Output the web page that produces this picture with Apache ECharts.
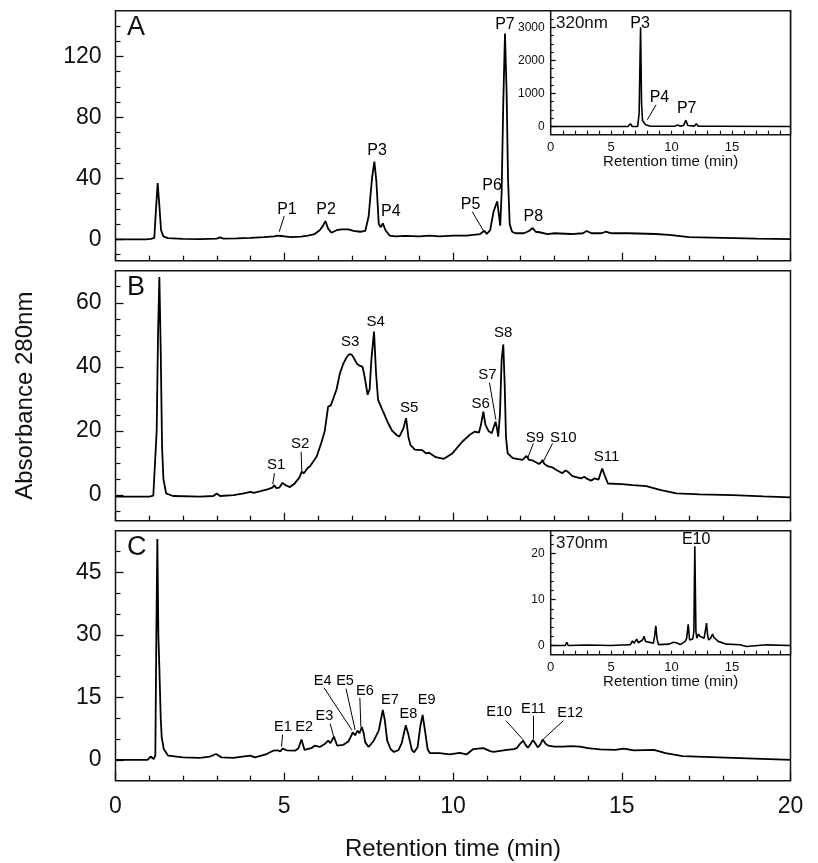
<!DOCTYPE html>
<html><head><meta charset="utf-8">
<script src="https://cdn.jsdelivr.net/npm/echarts@6/dist/echarts.min.js"></script>
<style>html,body{margin:0;padding:0;background:#fff}#c{width:818px;height:863px}</style>
</head><body><div id="c"></div>
<script>
// ---------- data: [retention time (min), absorbance] ----------
const chromA = [[0,0],[0.9,0],[1.05,0.3],[1.1,1.5],[1.15,1],[1.2,20],[1.25,37],[1.3,22],[1.35,6],[1.42,2],[1.55,0.8],[2.0,0.3],[2.5,0.2],[3.0,0.5],[3.1,1.3],[3.2,0.5],[3.6,0.6],[4.0,1],[4.4,1.5],[4.7,2],[4.8,2.5],[4.85,3.5],[4.92,2.2],[5.0,2],[5.2,1.5],[5.5,1.8],[5.7,2.5],[5.9,3.5],[6.05,6],[6.15,9],[6.22,12],[6.3,7],[6.4,4.3],[6.55,6],[6.7,6.6],[6.9,6.5],[7.05,5.5],[7.25,5],[7.4,5.5],[7.5,15],[7.6,40],[7.67,51],[7.73,38],[7.8,10],[7.86,8],[7.92,10.5],[8.0,6],[8.12,2.5],[8.3,2],[8.6,2.3],[9.0,2],[9.3,2.5],[9.6,2],[10.0,2.5],[10.4,2.5],[10.8,3.5],[10.93,5.7],[11.0,3.5],[11.1,6],[11.2,18],[11.31,25],[11.4,9],[11.44,30],[11.49,90],[11.54,135],[11.59,95],[11.63,40],[11.68,10],[11.75,5],[11.85,4],[12.1,4],[12.25,5.5],[12.36,7.4],[12.45,5],[12.6,4.5],[12.8,3.5],[13.0,4],[13.5,3.5],[13.85,4],[13.96,5.5],[14.1,4],[14.4,4],[14.52,5],[14.7,4],[15.2,4],[16.0,3.5],[16.4,3],[17.0,1.5],[18.0,1],[19.0,0.5],[20.0,0.2]];
const chromB = [[0,-0.5],[1.0,-0.5],[1.12,-0.2],[1.17,0],[1.22,20],[1.26,50],[1.30,68],[1.34,45],[1.38,15],[1.42,5],[1.5,0.5],[1.7,-0.3],[2.5,-0.5],[2.9,-0.3],[3.0,0.5],[3.1,-0.3],[3.5,0],[3.8,0.5],[4.0,1],[4.1,0.7],[4.3,1.2],[4.5,1.8],[4.65,2.3],[4.70,3.1],[4.76,2.2],[4.85,2.3],[4.95,3.8],[5.05,3],[5.17,2.5],[5.3,3.5],[5.45,5.5],[5.52,7.3],[5.58,6.8],[5.7,8.5],[5.76,8.9],[5.96,12],[6.11,16.7],[6.2,20],[6.3,27.6],[6.38,28],[6.45,30],[6.55,33],[6.6,33.2],[6.65,38],[6.75,41],[6.85,43],[6.93,44],[7.0,43.8],[7.05,43],[7.15,41],[7.25,40.3],[7.32,40],[7.38,37],[7.47,31.3],[7.53,33],[7.58,42],[7.66,51],[7.72,38],[7.78,29.7],[7.85,28],[7.93,26],[8.08,22.4],[8.2,20],[8.33,18.75],[8.41,18.2],[8.53,20.8],[8.61,24],[8.68,18],[8.74,15.6],[8.87,14.2],[9.09,14],[9.2,13],[9.29,13.2],[9.49,11.8],[9.73,11.3],[9.98,13],[10.28,16.7],[10.52,19],[10.65,19.8],[10.77,19.5],[10.83,22],[10.9,26],[10.96,22],[11.05,20],[11.15,19.3],[11.2,21],[11.26,22.9],[11.3,21],[11.34,18.2],[11.39,25],[11.44,42],[11.49,47],[11.53,35],[11.57,18],[11.62,13],[11.77,11.5],[12.06,11],[12.12,11.6],[12.18,12.2],[12.25,11],[12.36,10.8],[12.55,9.7],[12.62,10.3],[12.65,11],[12.7,9.8],[12.80,9],[12.95,8.6],[13.04,8],[13.24,6.8],[13.32,7.6],[13.39,7.4],[13.54,5.9],[13.79,5.2],[13.89,5.7],[13.95,5.2],[14.09,4.5],[14.2,5.2],[14.31,4.8],[14.42,8.3],[14.5,6],[14.59,3.6],[15.0,3.4],[15.33,3.1],[15.73,2.8],[16.13,1.6],[16.62,0.5],[17.31,0.2],[18.3,0],[19.2,-0.4],[20,-0.7]];
const chromC = [[0,0],[0.95,0],[1.04,0.8],[1.13,0.2],[1.18,1],[1.21,30],[1.24,53],[1.27,30],[1.3,22],[1.34,10],[1.37,5.4],[1.43,2.6],[1.56,1.0],[2.0,0.6],[2.5,0.5],[2.8,0.8],[2.98,1.4],[3.14,0.6],[3.49,0.5],[3.99,1.0],[4.13,0.6],[4.48,1.4],[4.67,2.2],[4.8,2.3],[4.88,2.0],[4.95,2.7],[5.07,2.3],[5.32,2.2],[5.42,2.8],[5.51,4.9],[5.6,2.4],[5.8,2.8],[5.9,3.4],[6.05,3.1],[6.2,3.8],[6.3,4.6],[6.37,4.0],[6.47,5.6],[6.57,3.4],[6.75,3.6],[6.9,4.4],[6.97,5.5],[7.03,6.6],[7.1,5.9],[7.17,7.0],[7.23,6.4],[7.3,7.9],[7.35,6.5],[7.4,4.2],[7.5,3.1],[7.65,4.6],[7.8,7.0],[7.86,9.5],[7.92,12.0],[7.98,9.5],[8.05,4.6],[8.15,2.6],[8.25,1.9],[8.38,2.3],[8.48,4],[8.6,8.3],[8.68,6],[8.78,2.4],[8.85,1.8],[8.95,3],[9.03,8],[9.1,10.8],[9.17,7],[9.25,2.5],[9.32,1.6],[9.6,1.6],[9.9,1.3],[10.2,1.7],[10.4,1.3],[10.6,2.6],[10.9,2.8],[11.1,2.1],[11.2,1.9],[11.6,2.4],[11.8,2.6],[11.9,2.9],[11.98,3.8],[12.08,4.6],[12.15,3.6],[12.22,2.9],[12.3,3.8],[12.37,4.8],[12.45,3.8],[12.51,3.0],[12.58,3.6],[12.66,4.9],[12.75,3.8],[12.83,3.4],[13.0,3.2],[13.27,3.2],[13.5,3.3],[13.76,3.2],[14.0,2.8],[14.36,2.5],[14.8,2.4],[15.06,2.7],[15.36,2.3],[15.95,2.4],[16.3,1.6],[16.8,0.9],[18.3,0.5],[20,0]];
const chromInsetA = [[0,0],[6.4,0],[6.6,80],[6.75,0],[7.2,0],[7.32,400],[7.44,3000],[7.52,700],[7.6,180],[7.72,200],[7.85,50],[8.2,10],[9.5,5],[10.3,10],[10.5,40],[10.7,10],[11.0,30],[11.19,190],[11.35,30],[11.9,10],[12.05,80],[12.2,10],[13.6,5],[13.7,30],[13.85,5],[19.85,0]];
const chromInsetC = [[0,0],[1.2,0],[1.33,0.7],[1.45,0],[3,0.1],[5.0,0],[5.85,0.1],[5.97,0.5],[6.1,0.1],[6.6,0.2],[6.77,1.0],[6.9,0.5],[7.05,0.7],[7.12,1.4],[7.25,0.6],[7.4,0.9],[7.6,1.2],[7.73,2.0],[7.85,0.9],[7.96,0.5],[8.5,0.5],[8.6,2],[8.7,4.3],[8.8,1.5],[8.92,0.2],[9.8,0.3],[10.16,0.7],[10.4,0.6],[10.72,0.2],[11.13,0.9],[11.25,1.5],[11.38,4.6],[11.5,1.2],[11.6,0.9],[11.76,1.4],[11.85,3],[11.93,21.6],[12.02,3],[12.1,1.6],[12.23,2.5],[12.35,2.0],[12.5,2.0],[12.7,1.6],[12.82,3.5],[12.9,4.9],[12.98,2.5],[13.07,1.2],[13.24,1.6],[13.4,2.5],[13.5,1.8],[13.6,1.8],[13.87,0.9],[14.56,0.3],[15.67,0.15],[16.2,-0.2],[17.86,0.15],[19.85,0]];

// ---------- peak annotations: [text, time, value] and leader lines [t1,v1,t2,v2] ----------
const labelsA = [['P1',5.08,19.8],['P2',6.24,19.8],['P3',7.75,58.4],['P4',8.16,18.2],['P5',10.52,23],['P6',11.16,35.3],['P7',11.54,140.6],['P8',12.38,14.9]];
const leadersA = [[5.0,15.4,4.85,5],[10.57,18.2,10.9,5.7]];
const labelsB = [['S1',4.76,9.4],['S2',5.47,15.9],['S3',6.95,47.9],['S4',7.71,53.9],['S5',8.70,27.1],['S6',10.82,28.6],['S7',11.02,37.5],['S8',11.49,50.5],['S9',12.43,17.7],['S10',13.27,17.7],['S11',14.55,12]];
const leadersB = [[4.71,6.8,4.66,3.4],[5.50,13.5,5.52,7.3],[11.08,35.1,11.27,23.5],[12.38,16.1,12.2,11.2],[12.95,16.1,12.68,10.6]];
const labelsC = [['E1',4.96,8.0],['E2',5.59,8.0],['E3',6.19,10.6],['E4',6.14,18.9],['E5',6.80,18.9],['E6',7.39,16.5],['E7',8.13,14.3],['E8',8.68,10.9],['E9',9.22,14.3],['E10',11.37,11.4],['E11',12.38,12.3],['E12',13.47,11.2]];
const leadersC = [[4.95,6.1,4.92,3.2],[6.36,8.7,6.47,5.4],[6.18,17.3,7.0,7.2],[6.83,17.1,7.10,7.2],[7.24,14.9,7.27,7.9],[11.57,9.4,12.08,4.8],[12.38,10.6,12.38,5.0],[13.27,9.4,12.68,5.0]];
const labelsInsetA = [['P3',7.40,3124],['P4',9.0,880],['P7',11.26,535]];
const leadersInsetA = [[8.72,656,8.0,202]];
const labelsInsetC = [['E10',12.04,23.1]];

// ---------- axis ticks ----------
const xMain = {min:0, max:20, interval:5};
const yRangeA = [-14,150], yMajorA = [0,40,80,120], yMinorA = [-10,10,20,30,50,60,70,90,100,110,130,140];
const yRangeB = [-8,70], yMajorB = [0,20,40,60], yMinorB = [-5,5,10,15,25,30,35,45,50,55,65];
const yRangeC = [-5,55], yMajorC = [0,15,30,45], yMinorC = [5,10,20,25,35,40,50];
const xInsetMax = 19.85, xInsetLabels = [0,5,10,15], xInsetTicks = [1,2,3,4,5,6,7,8,9,10,11,12,13,14,15,16,17,18,19];
const yRangeIA = [-250,3500], yMajorIA = [0,1000,2000,3000], yMinorIA = [250,500,750,1250,1500,1750,2250,2500,2750,3250];
const yRangeIC = [-2,25], yMajorIC = [0,10,20], yMinorIC = [2,4,6,8,12,14,16,18,22,24];

const FONT = "'Liberation Sans', Arial, sans-serif";
const INK = '#111';
const chart = echarts.init(document.getElementById('c'), null, {renderer:'canvas'});

const GL = 115.5, GW = 675, GH = 250;
const grids = [
  {left:GL, top:10.7, width:GW, height:GH},
  {left:GL, top:270.7, width:GW, height:GH},
  {left:GL, top:530.7, width:GW, height:GH},
  {left:550.7, top:10.7, width:239.8, height:124, backgroundColor:'#fff', z:3},
  {left:550.7, top:530.7, width:239.8, height:124, backgroundColor:'#fff', z:3}
].map(g => Object.assign({show:true, borderColor:INK, borderWidth:1.5, containLabel:false}, g));

const plain = v => String(v);

function mainX(i, labels){
  const ax = {gridIndex:i, type:'value', min:xMain.min, max:xMain.max, interval:xMain.interval,
    axisLine:{show:false, onZero:false}, splitLine:{show:false},
    axisTick:{show:true, inside:true, length:8, lineStyle:{color:INK, width:1.3}},
    minorTick:{show:true, splitNumber:5, length:5, lineStyle:{color:INK, width:1.3}},
    axisLabel:{show:labels, fontSize:23, margin:14, color:INK, fontFamily:FONT, formatter:plain}};
  if (labels){ Object.assign(ax, {name:'Retention time (min)', nameLocation:'middle', nameGap:57,
    nameTextStyle:{fontSize:24, color:INK, fontFamily:FONT}}); }
  return ax;
}
function insetX(i){
  return {gridIndex:i, type:'value', min:0, max:xInsetMax, z:4,
    axisLine:{show:false, onZero:false}, splitLine:{show:false},
    axisTick:{show:true, inside:true, length:4, customValues:xInsetTicks, lineStyle:{color:INK, width:1.2}},
    axisLabel:{show:true, customValues:xInsetLabels, fontSize:13, margin:6, color:INK, fontFamily:FONT, formatter:plain},
    name:'Retention time (min)', nameLocation:'middle', nameGap:18,
    nameTextStyle:{fontSize:15, color:INK, fontFamily:FONT}};
}
function yMajor(i, range, vals, fs, margin, len, z){
  return {gridIndex:i, type:'value', position:'left', min:range[0], max:range[1], z:z||0,
    axisLine:{show:false, onZero:false}, splitLine:{show:false},
    axisTick:{show:true, inside:true, length:len, customValues:vals, lineStyle:{color:INK, width:1.3}},
    axisLabel:{show:true, customValues:vals, fontSize:fs, margin:margin, color:INK, fontFamily:FONT, formatter:plain}};
}
function yMinor(i, range, vals, len, z){
  return {gridIndex:i, type:'value', position:'left', min:range[0], max:range[1], z:z||0,
    axisLine:{show:false, onZero:false}, splitLine:{show:false},
    axisTick:{show:true, inside:true, length:len, customValues:vals, lineStyle:{color:INK, width:1.2}},
    axisLabel:{show:false}};
}

const yAxes = [
  yMajor(0, yRangeA, yMajorA, 23, 14, 8), yMinor(0, yRangeA, yMinorA, 5),
  Object.assign(yMajor(1, yRangeB, yMajorB, 23, 14, 8), {name:'Absorbance 280nm', nameLocation:'middle', nameGap:78,
    nameTextStyle:{fontSize:24, color:INK, fontFamily:FONT}}),
  yMinor(1, yRangeB, yMinorB, 5),
  yMajor(2, yRangeC, yMajorC, 23, 14, 8), yMinor(2, yRangeC, yMinorC, 5),
  yMajor(3, yRangeIA, yMajorIA, 12, 6, 5, 4), yMinor(3, yRangeIA, yMinorIA, 3, 4),
  yMajor(4, yRangeIC, yMajorIC, 12, 6, 5, 4), yMinor(4, yRangeIC, yMinorIC, 3, 4)
];

function trace(data, xi, yi, z, w){
  return {type:'line', xAxisIndex:xi, yAxisIndex:yi, data:data, showSymbol:false, symbol:'none',
    smooth:false, z:z||2, animation:false, silent:true,
    lineStyle:{color:'#000', width:w||1.8}};
}
function leaders(series, list){
  series.markLine = {silent:true, symbol:['none','none'], animation:false,
    lineStyle:{color:'#000', width:1, type:'solid'}, label:{show:false},
    data:list.map(l => [{coord:[l[0],l[1]]},{coord:[l[2],l[3]]}])};
  return series;
}
function labels(list, xi, yi, fs, z){
  return {type:'scatter', xAxisIndex:xi, yAxisIndex:yi, symbolSize:1, z:z||3, animation:false, silent:true,
    itemStyle:{color:'rgba(0,0,0,0)', opacity:1},
    data:list.map(l => [l[1], l[2], l[0]]),
    label:{show:true, position:'inside', formatter:p => p.value[2], fontSize:fs, color:'#000', opacity:1, fontFamily:FONT}};
}

const series = [
  leaders(trace(chromA, 0, 0), leadersA),
  leaders(trace(chromB, 1, 2), leadersB),
  leaders(trace(chromC, 2, 4), leadersC),
  leaders(trace(chromInsetA, 3, 6, 5, 1.6), leadersInsetA),
  trace(chromInsetC, 4, 8, 5, 1.6),
  labels(labelsA, 0, 0, 16),
  labels(labelsB, 1, 2, 15),
  labels(labelsC, 2, 4, 14.5),
  labels(labelsInsetA, 3, 6, 16, 6),
  labels(labelsInsetC, 4, 8, 16, 6)
];

function tag(text, left, top, fs, z){
  return {text:text, left:left, top:top, padding:0, z:z||5, textStyle:{fontSize:fs, fontWeight:'normal', color:INK, fontFamily:FONT}};
}

chart.setOption({
  animation:false,
  backgroundColor:'#fff',
  title:[tag('A',127,14,27), tag('B',127,274,27), tag('C',127,534,27), tag('320nm',556,14.5,17,7), tag('370nm',556,534.5,17,7)],
  grid:grids,
  xAxis:[mainX(0,false), mainX(1,false), mainX(2,true), insetX(3), insetX(4)],
  yAxis:yAxes,
  series:series
});
</script>
</body></html>
